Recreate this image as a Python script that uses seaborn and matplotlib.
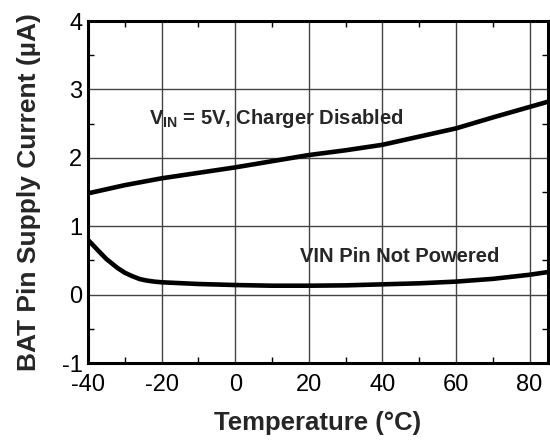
import matplotlib
matplotlib.use("Agg")
import matplotlib.pyplot as plt
import seaborn as sns
import pandas as pd
from matplotlib.ticker import MultipleLocator

# Data
temp_upper = [-40, -30, -20, -10, 0, 10, 20, 30, 40, 50, 60, 70, 85]
cur_upper = [1.48, 1.60, 1.70, 1.78, 1.86, 1.95, 2.04, 2.11, 2.19, 2.31, 2.43, 2.59, 2.82]

temp_lower = [-40, -37, -35, -32, -30, -28, -26, -24, -22, -20, -10, 0, 10, 20, 30, 40, 50, 60, 70, 80, 85]
cur_lower = [0.80, 0.63, 0.52, 0.39, 0.32, 0.27, 0.228, 0.205, 0.19, 0.18, 0.155, 0.14, 0.13, 0.13, 0.135, 0.15, 0.165, 0.19, 0.23, 0.29, 0.33]

x_ticks = [-40, -20, 0, 20, 40, 60, 80]
y_ticks = [-1, 0, 1, 2, 3, 4]

label_upper = r"V$_{\mathregular{IN}}$ = 5V, Charger Disabled"
label_lower = "VIN Pin Not Powered"

sns.set_theme(style="white")
plt.rcParams['font.family'] = ['Liberation Sans', 'DejaVu Sans']
plt.rcParams['mathtext.fontset'] = 'custom'
plt.rcParams['mathtext.bf'] = 'Liberation Sans:bold'
plt.rcParams['mathtext.rm'] = 'Liberation Sans:bold'
plt.rcParams['mathtext.default'] = 'bf'

df_u = pd.DataFrame({"T": temp_upper, "I": cur_upper})
df_l = pd.DataFrame({"T": temp_lower, "I": cur_lower})

fig = plt.figure(figsize=(5.5, 4.4), dpi=100)
ax = fig.add_axes([88/550, 1-363/440, 460/550, 342/440])

sns.lineplot(data=df_u, x="T", y="I", ax=ax, color="black", linewidth=3.3, sort=False)
sns.lineplot(data=df_l, x="T", y="I", ax=ax, color="black", linewidth=3.3, sort=False)

ax.set_xlim(-40, 85)
ax.set_ylim(-1, 4)
ax.set_xticks(x_ticks)
ax.set_yticks(y_ticks)
ax.set_xticklabels([str(v) for v in x_ticks])
ax.set_yticklabels([str(v) for v in y_ticks])
ax.xaxis.set_minor_locator(MultipleLocator(10))
ax.yaxis.set_minor_locator(MultipleLocator(0.5))
ax.grid(True, which="major", color="#444444", linewidth=1.0)
ax.tick_params(axis="x", which="major", direction="in", length=0, labelsize=17, pad=8, colors="black")
ax.tick_params(axis="y", which="major", direction="in", length=0, labelsize=17, pad=4, colors="black")
ax.tick_params(axis="both", which="minor", direction="in", length=4, width=1, color="black",
               top=True, right=True, bottom=True, left=True)
for s in ax.spines.values():
    s.set_visible(True)
    s.set_color("black")
    s.set_linewidth(2.2)

ax.set_xlabel("Temperature (°C)", fontsize=18.5, fontweight="bold", labelpad=11)
ax.set_ylabel("BAT Pin Supply Current (µA)", fontsize=19, fontweight="bold", labelpad=15)

ax.text(-23.3, 2.58, label_upper, fontsize=14.5, fontweight="bold", va="center", ha="left")
ax.text(17.6, 0.56, label_lower, fontsize=14.5, fontweight="bold", va="center", ha="left")

fig.savefig("out.png", dpi=100)
